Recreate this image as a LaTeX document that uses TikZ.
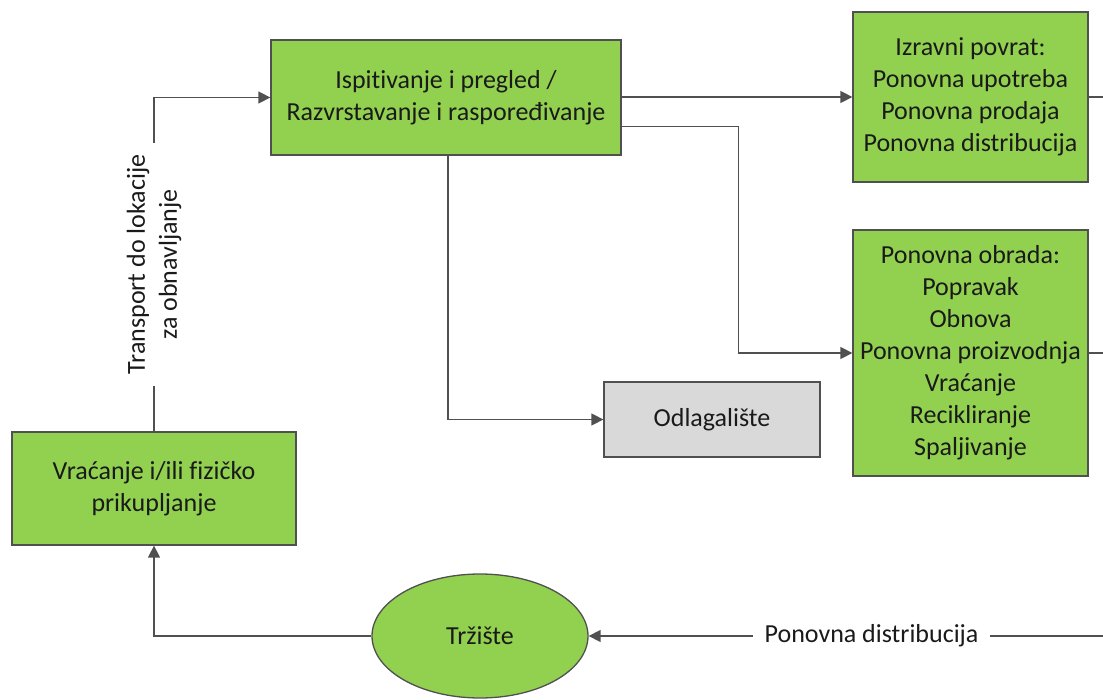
\documentclass[tikz,border=0pt]{standalone}
\usepackage{fontspec}
\setmainfont{Carlito}[Ligatures={NoCommon}]
\usetikzlibrary{arrows.meta,shapes.geometric,calc}
\definecolor{boxgreen}{HTML}{92D050}
\definecolor{boxgray}{HTML}{D9D9D9}
\definecolor{edgecol}{HTML}{505050}
\definecolor{txtcol}{HTML}{1A1A1A}
\begin{document}
\begin{tikzpicture}[x=1pt,y=-1pt,
  every node/.style={font=\fontsize{26}{32}\selectfont, text=txtcol},
  greenbox/.style={draw=edgecol, line width=1.3pt, fill=boxgreen, align=center, inner sep=0pt},
  graybox/.style={draw=edgecol, line width=1.3pt, fill=boxgray, align=center, inner sep=0pt},
  conn/.style={draw=edgecol, line width=1.5pt},
  arr/.style={conn, -{Triangle[length=12pt,width=12pt]}},
  lbl/.style={fill=white, align=center}]
\useasboundingbox (0,0) rectangle (1103,700);

\node[greenbox, minimum width=350pt, minimum height=115pt] (isp) at (446,97.5)
  {Ispitivanje i pregled /\\Razvrstavanje i raspoređivanje};
\node[greenbox, minimum width=235pt, minimum height=170pt] (izr) at (970.5,97)
  {Izravni povrat:\\Ponovna upotreba\\Ponovna prodaja\\Ponovna distribucija};
\node[greenbox, minimum width=235pt, minimum height=246pt] (obr) at (970.5,353)
  {Ponovna obrada:\\Popravak\\Obnova\\Ponovna proizvodnja\\Vraćanje\\Recikliranje\\Spaljivanje};
\node[graybox, minimum width=216pt, minimum height=75pt] (odl) at (712,419.5) {Odlagalište};
\node[greenbox, minimum width=284pt, minimum height=113pt] (vra) at (154,488.5)
  {Vraćanje i/ili fizičko\\prikupljanje};
\node[ellipse, draw=edgecol, line width=1.3pt, fill=boxgreen, minimum width=216pt, minimum height=124pt, inner sep=0pt] (trz) at (480,636) {Tržište};

\coordinate (r1) at (1103,97);
\coordinate (r2) at (1103,353);
\coordinate (r3) at (1103,636);

\draw[arr] (vra.north) |- (isp.west)
  node[pos=0.25, lbl, rotate=90, inner xsep=12pt, inner ysep=4pt] (tl) {Transport do lokacije\\za obnavljanje};
\draw[arr] (isp.east |- izr.west) -- (izr.west);
\draw[arr] ([yshift=-29pt]isp.east) -- ++(117,0) |- (obr.west);
\draw[arr] ([xshift=2pt]isp.south) |- (odl.west);
\draw[conn] (izr.east) -- (r1);
\draw[conn] (obr.east) -- (r2);
\draw[arr] (r3) -- (trz.east)
  node[pos=0.45, lbl, inner xsep=12pt] (pd) {Ponovna distribucija};
\draw[arr] (trz.west) -| (vra.south);
\end{tikzpicture}
\end{document}
